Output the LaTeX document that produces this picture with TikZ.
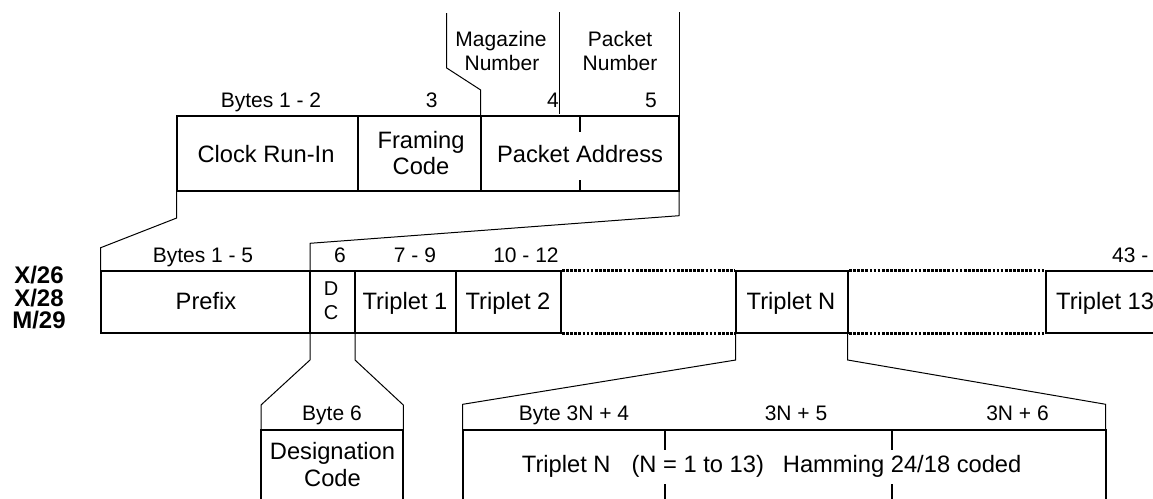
\documentclass[tikz,border=0pt]{standalone}
\usepackage{fontspec}
\setmainfont{Liberation Sans}
\begin{document}
\begin{tikzpicture}[x=1pt,y=-1pt,
  boxline/.style={line width=2.2pt},
  thinline/.style={line width=1pt},
  dotline/.style={line width=2.7pt, dash pattern=on 2.7pt off 1.4pt},
  lab/.style={font=\fontsize{21}{24}\selectfont, anchor=base, inner sep=0pt},
  cell/.style={font=\fontsize{23.7}{26}\selectfont, anchor=base, inner sep=0pt},
  small/.style={font=\fontsize{20}{22}\selectfont, anchor=base, inner sep=0pt},
  side/.style={font=\fontsize{24}{26}\bfseries\selectfont, anchor=base, inner sep=0pt}]
\useasboundingbox (0,0) rectangle (1153,498);
\clip (0,0) rectangle (1153,498);

% ---------- top box ----------
\coordinate (tl) at (176.7,116);
\coordinate (tr) at (679,191);
\draw[boxline] (tl) rectangle (tr);
\draw[boxline] (358,116) -- (358,191);
\draw[boxline] (480.7,116) -- (480.7,191);
\draw[boxline] (580,116) -- (580,132) (580,180) -- (580,191);

% leader lines above
\draw[thinline] (446.7,13) -- (446.7,68) -- (480.7,90) -- (480.7,116);
\draw[thinline] (559,12) -- (559,114);
\draw[thinline] (679,12) -- (679,116);

\node[lab] (b12) at (271,107) {Bytes 1 - 2};
\node[lab] (b3) at (431.7,107) {3};
\node[lab] (b4) at (553,107) {4};
\node[lab] (b5) at (651,107) {5};
\node[lab] (mag1) at (501,46.7) {Magazine};
\node[lab] (mag2) at (502,70.7) {Number};
\node[lab] (pk1) at (620,46.7) {Packet};
\node[lab] (pk2) at (620,70.7) {Number};
\node[cell] (cri) at (266,162.3) {Clock Run-In};
\node[cell] (fr1) at (421,148.3) {Framing};
\node[cell] (fr2) at (421,174) {Code};
\node[cell] (pa) at (580,162.3) {Packet Address};

% ---------- expansion to row 2 ----------
\draw[thinline] (176.7,191) -- (176.7,218) -- (100.7,247.7) -- (100.7,270);
\draw[thinline] (679,191) -- (679,215.7) -- (310,243.3) -- (310,270);

% ---------- row 2 ----------
\draw[boxline] (100.7,270.7) rectangle (561,333.3);
\draw[boxline] (310,270.7) -- (310,333.3);
\draw[boxline] (355,270.7) -- (355,333.3);
\draw[boxline] (456,270.7) -- (456,333.3);
\draw[boxline] (735.7,270.7) rectangle (847.7,333.3);
\draw[boxline] (1200,270.7) -- (1045.7,270.7) -- (1045.7,333.3) -- (1200,333.3);
\draw[dotline] (562,270.7) -- (735,270.7) (562,333.3) -- (735,333.3);
\draw[dotline] (849,270.7) -- (1045,270.7) (849,333.3) -- (1045,333.3);

\node[lab] (b15) at (203,262.7) {Bytes 1 - 5};
\node[lab] (b6) at (340,262.7) {6};
\node[lab] (b79) at (415,262.7) {7 - 9};
\node[lab] (b1012) at (526,262.7) {10 - 12};
\node[lab, anchor=base west] (b43) at (1112,262.7) {43 - 45};

\node[cell] (pre) at (206,309.3) {Prefix};
\node[small] (d) at (331,295.7) {D};
\node[small] (c) at (331,319.3) {C};
\node[cell] (t1) at (405,309.3) {Triplet 1};
\node[cell] (t2) at (508,309.3) {Triplet 2};
\node[cell] (tn) at (791,309.3) {Triplet N};
\node[cell, anchor=base west] (t13) at (1056,309.3) {Triplet 13};

\node[side] (x26) at (39,283.3) {X/26};
\node[side] (x28) at (39,306) {X/28};
\node[side] (m29) at (39,328.7) {M/29};

% ---------- expansions to row 3 ----------
\draw[thinline] (310,333.3) -- (310,360) -- (261,405) -- (261,430);
\draw[thinline] (355,333.3) -- (355,360) -- (403.3,405) -- (403.3,430);
\draw[thinline] (735.7,333.3) -- (735.7,360) -- (462.7,404.3) -- (462.7,430);
\draw[thinline] (847.7,333.3) -- (847.7,360) -- (1105.7,404.3) -- (1105.7,430);

% ---------- row 3 ----------
\draw[boxline] (261,505) -- (261,430) -- (403.3,430) -- (403.3,505);
\draw[boxline] (462.7,505) -- (462.7,430) -- (1105.7,430) -- (1105.7,505);
\draw[boxline] (665,430) -- (665,450) (665,484) -- (665,505);
\draw[boxline] (892.3,430) -- (892.3,450) (892.3,484) -- (892.3,505);

\node[lab] (by6) at (332,420) {Byte 6};
\node[cell] (des1) at (332.5,459.3) {Designation};
\node[cell] (des2) at (332.5,486.7) {Code};
\node[lab] (n4) at (574,420) {Byte 3N + 4};
\node[lab] (n5) at (796,420) {3N + 5};
\node[lab] (n6) at (1017.5,420) {3N + 6};
\node[cell, anchor=base west] (ham) at (521.7,472.7) {Triplet N\hspace{21pt}(N = 1 to 13)\hspace{19pt}Hamming 24/18 coded};
\end{tikzpicture}
\end{document}
